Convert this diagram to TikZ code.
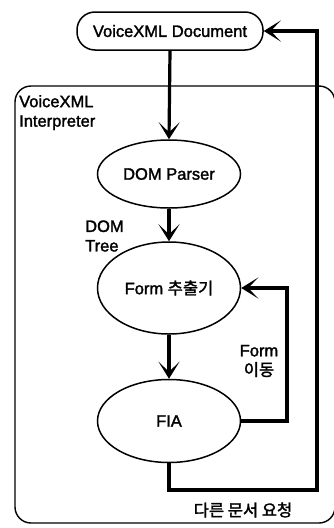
\documentclass[tikz,border=0pt]{standalone}
\usepackage{fontspec}
\setmainfont{Liberation Sans}[FakeBold=1.8]
\newfontfamily\kr{Noto Sans CJK KR}[FakeBold=1.8]
\usetikzlibrary{shapes.geometric,arrows.meta}
\tikzset{
  txt/.style={font=\fontsize{16.5}{19.5}\selectfont},
  stage/.style={ellipse, draw, line width=1.5pt, inner sep=0pt, txt},
  docbox/.style={rectangle, rounded corners=18pt, draw, line width=1.5pt, inner sep=0pt, txt},
  flow/.style={line width=3.2pt, -{Stealth[length=17pt,width=21pt,inset=10pt]}},
  lbl/.style={inner sep=0pt, txt, align=center}
}
\begin{document}
\begin{tikzpicture}[x=1pt,y=-1pt]
\useasboundingbox (0,0) rectangle (333,528);
% interpreter frame
\draw[line width=1.4pt, rounded corners=16pt] (15,86) rectangle (335,523);
\node[lbl, align=left, anchor=north west] (interp) at (19,95) {VoiceXML\\Interpreter};

% processing stages
\node[docbox, minimum width=186pt, minimum height=38pt] (doc) at (170,31) {VoiceXML Document};
\node[stage, minimum width=143pt, minimum height=68pt] (parser) at (169,174) {DOM Parser};
\node[stage, minimum width=143pt, minimum height=92pt] (form) at (169,288) {Form {\kr 추출기}};
\node[stage, minimum width=143pt, minimum height=83pt] (fia) at (169,421) {FIA};

% labels
\node[lbl, align=left, anchor=west] (tree) at (85,236) {DOM\\Tree};
\node[lbl] (move) at (259,361) {Form\\{\kr 이동}};
\node[lbl] (req) at (243,510) {\kr 다른 문서 요청};

% corner points of the feedback loops
\coordinate (fr) at (287,421);
\coordinate (rc) at (317,490);

% main flow
\draw[flow] (doc.south) -- (parser.north);
\draw[flow] (parser.south) -- (form.north);
\draw[flow] (form.south) -- (fia.north);

% loops back
\draw[flow] (fia.east) -- (fr) |- (form.east);
\draw[flow] (fia.south) |- (rc) |- (doc.east);
\end{tikzpicture}
\end{document}
